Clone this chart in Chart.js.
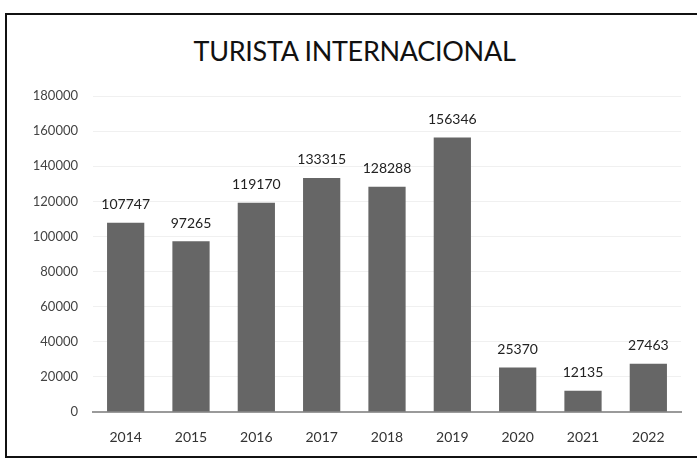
<!DOCTYPE html>
<html>
<head>
<meta charset="utf-8">
<script src="https://cdn.jsdelivr.net/npm/chart.js@4"></script>
<style>
  html, body { margin: 0; padding: 0; background: #fff; }
  #marco {
    position: absolute; left: 5px; top: 13px; width: 700px; height: 441px;
    border-left: 2px solid #111; border-top: 2px solid #111; border-bottom: 2px solid #111;
  }
  #titulo {
    position: absolute; left: 6px; width: 697px; top: 34px; text-align: center;
    font-family: Lato, sans-serif; font-size: 27px; color: #111; letter-spacing: -0.3px;
  }
  #wrap { position: absolute; left: 0; top: 0; width: 697px; height: 462px; }
</style>
</head>
<body>
<div id="marco"></div>
<div id="titulo">TURISTA INTERNACIONAL</div>
<div id="wrap"><canvas id="grafico"></canvas></div>
<script>
// Turistas internacionales por año
const anios = ["2014", "2015", "2016", "2017", "2018", "2019", "2020", "2021", "2022"];
const turistas = [107747, 97265, 119170, 133315, 128288, 156346, 25370, 12135, 27463];
const ejeY = { min: 0, max: 180000, paso: 20000 };

// Escribe el valor encima de cada barra
const etiquetasValor = {
    id: "etiquetasValor",
    afterDatasetsDraw(chart) {
        const ctx = chart.ctx;
        const meta = chart.getDatasetMeta(0);
        ctx.save();
        ctx.font = "14px Lato, sans-serif";
        ctx.fillStyle = "#222";
        ctx.textAlign = "center";
        ctx.textBaseline = "middle";
        meta.data.forEach((bar, i) => {
            ctx.fillText(String(turistas[i]), bar.x, bar.y - 18);
        });
        ctx.restore();
    }
};

new Chart(document.getElementById("grafico"), {
    type: "bar",
    data: {
        labels: anios,
        datasets: [{
            data: turistas,
            backgroundColor: "#666",
            barPercentage: 0.57,
            categoryPercentage: 1
        }]
    },
    options: {
        responsive: true,
        maintainAspectRatio: false,
        animation: false,
        layout: { padding: { top: 96, right: 16, left: 0, bottom: 0 } },
        plugins: { legend: { display: false }, tooltip: { enabled: false } },
        scales: {
            x: {
                afterFit: s => { s.height = 50; },
                grid: { display: false, drawTicks: false },
                border: { color: "#9a9a9a", width: 2 },
                ticks: { color: "#333", padding: 17, font: { family: "Lato", size: 14 } }
            },
            y: {
                min: ejeY.min,
                max: ejeY.max,
                afterFit: s => { s.width = 93; },
                grid: { color: "#f0f0f0", drawTicks: false },
                border: { display: false },
                ticks: {
                    stepSize: ejeY.paso,
                    color: "#444",
                    padding: 15,
                    font: { family: "Lato", size: 13 },
                    callback: v => String(v)
                }
            }
        }
    },
    plugins: [etiquetasValor]
});
</script>
</body>
</html>
